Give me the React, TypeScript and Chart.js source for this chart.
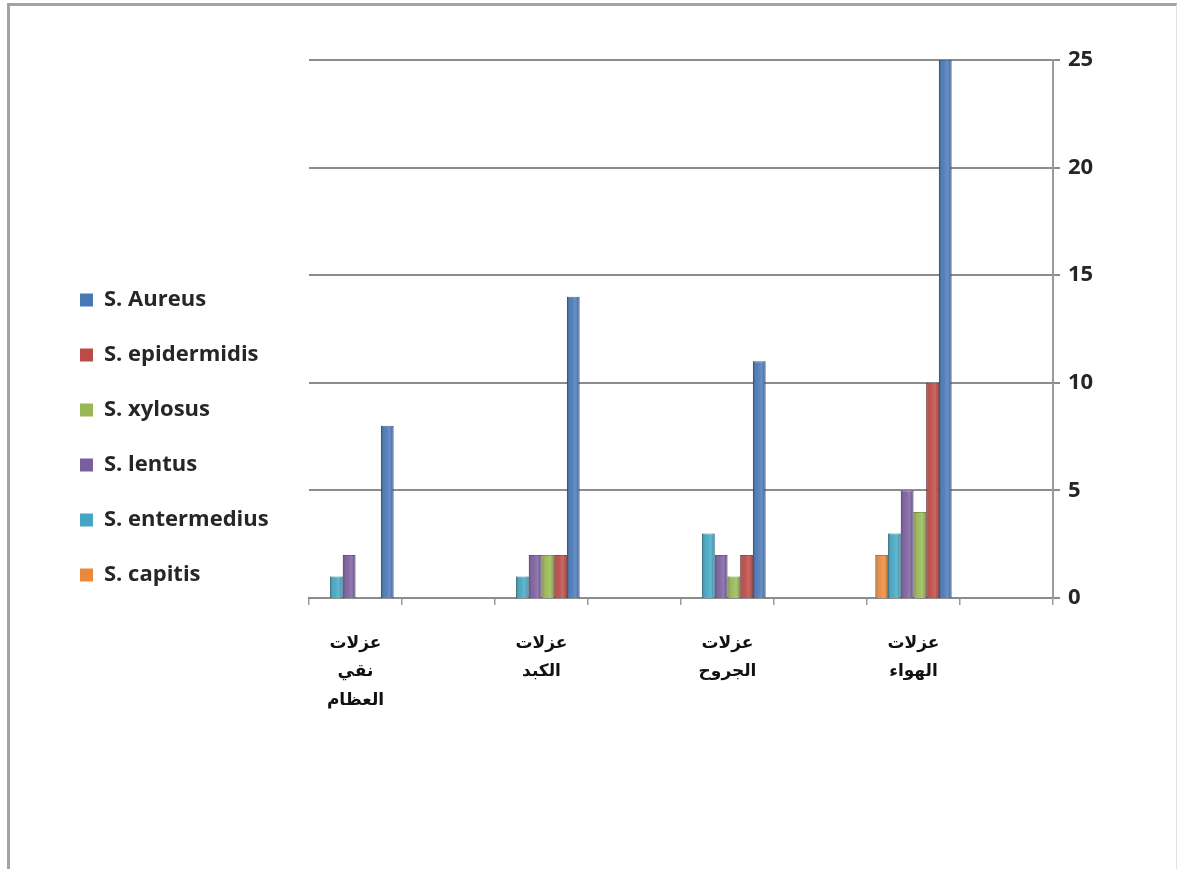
import React, { useEffect, useRef } from "react";
import { Chart, registerables } from "chart.js";

Chart.register(...registerables);

// Isolation sites (each label is drawn on several lines)
const SITES: string[][] = [
  ["عزلات", "نقي", "العظام"],
  ["عزلات", "الكبد"],
  ["عزلات", "الجروح"],
  ["عزلات", "الهواء"],
];

// Species, in the order the bars stand inside each group
const SPECIES = [
  "S. capitis",
  "S. entermedius",
  "S. lentus",
  "S. xylosus",
  "S. epidermidis",
  "S. Aureus",
];

// Counts per site (bone marrow, liver, wounds, air)
const CAPITIS = [0, 0, 0, 2];
const ENTERMEDIUS = [1, 1, 3, 3];
const LENTUS = [2, 2, 2, 5];
const XYLOSUS = [0, 2, 1, 4];
const EPIDERMIDIS = [0, 2, 2, 10];
const AUREUS = [8, 14, 11, 25];

const Y_TICKS = [0, 5, 10, 15, 20, 25];

const FILLS = ["#EA893B", "#44A6C2", "#7B5E9E", "#97B853", "#BC4A46", "#4978B8"];
const EDGES = ["#B96A2C", "#34849B", "#5F4880", "#75923F", "#923936", "#385E93"];

const W = 1177;
const H = 869;
const PAD = { left: 47, top: 60, right: 0, bottom: 54 };
const PLOT_LEFT = 309;
const PLOT_RIGHT = 1053;
const PLOT_BOTTOM = 598;
const LEGEND_FONT = 22;
const LEGEND_FAMILY = "Open Sans";
const LEGEND_PAD = 33;
const LEGEND_BOX = 13;

// Each site is followed by an empty slot on the category axis
const slotLabels = (): (string | string[])[] =>
  SITES.flatMap((s) => [s, ""]);
const slotData = (values: number[]): (number | null)[] =>
  values.flatMap((v) => [v, null]);

// Cylinder-like shading laid over each column
const shadePlugin = {
  id: "columnShade",
  afterDatasetsDraw(chart: any) {
    const ctx = chart.ctx;
    chart.data.datasets.forEach((_: any, di: number) => {
      const meta = chart.getDatasetMeta(di);
      if (meta.hidden) return;
      meta.data.forEach((el: any, i: number) => {
        const raw = chart.data.datasets[di].data[i];
        if (raw === null || raw === undefined || raw === 0) return;
        const { x, y, base, width } = el.getProps(["x", "y", "base", "width"], true);
        const l = x - width / 2;
        const g = ctx.createLinearGradient(l, 0, l + width, 0);
        g.addColorStop(0, "rgba(0,0,0,0.28)");
        g.addColorStop(0.35, "rgba(255,255,255,0.05)");
        g.addColorStop(0.7, "rgba(255,255,255,0.18)");
        g.addColorStop(1, "rgba(0,0,0,0.12)");
        ctx.save();
        ctx.fillStyle = g;
        ctx.fillRect(l, y, width, base - y);
        ctx.restore();
      });
    });
  },
};

export default function App() {
  const ref = useRef<HTMLCanvasElement | null>(null);

  useEffect(() => {
    if (!ref.current) return;
    const series = [CAPITIS, ENTERMEDIUS, LENTUS, XYLOSUS, EPIDERMIDIS, AUREUS];
    const chart = new Chart(ref.current, {
      type: "bar",
      data: {
        labels: slotLabels(),
        datasets: SPECIES.map((name, i) => ({
          label: name,
          data: slotData(series[i]),
          backgroundColor: FILLS[i],
          borderColor: EDGES[i],
          borderWidth: 1,
          borderSkipped: "bottom",
          categoryPercentage: 0.82,
          barPercentage: 1.0,
        })),
      },
      options: {
        responsive: false,
        animation: false,
        devicePixelRatio: 1,
        layout: { padding: PAD },
        plugins: {
          tooltip: { enabled: false },
          legend: {
            position: "left",
            reverse: true,
            maxWidth: 400,
            labels: {
              boxWidth: LEGEND_BOX,
              boxHeight: LEGEND_BOX,
              padding: LEGEND_PAD,
              color: "#262626",
              font: { family: LEGEND_FAMILY, weight: "bold", size: LEGEND_FONT },
              generateLabels: (c: any) =>
                Chart.defaults.plugins.legend.labels
                  .generateLabels(c)
                  .map((it: any) => ({ ...it, lineWidth: 0, strokeStyle: it.fillStyle })),
            },
          },
        },
        scales: {
          gap: {
            type: "linear",
            axis: "y",
            position: "left",
            display: true,
            grid: { display: false, drawTicks: false },
            border: { display: false },
            ticks: { display: false },
            afterFit: (s: any) => {
              const ctx = s.ctx;
              ctx.save();
              ctx.font = `bold ${LEGEND_FONT}px "${LEGEND_FAMILY}"`;
              const tw = Math.max(...SPECIES.map((n) => ctx.measureText(n).width));
              ctx.restore();
              const legendW = LEGEND_BOX + LEGEND_FONT / 2 + tw + LEGEND_PAD + 10;
              s.width = Math.max(0, PLOT_LEFT - PAD.left - legendW);
            },
          },
          x: {
            offset: true,
            grid: {
              display: true,
              offset: true,
              drawOnChartArea: false,
              drawTicks: true,
              tickLength: 7,
              color: "#9a9a9a",
              lineWidth: 1.5,
            },
            border: { display: true, color: "#8c8c8c", width: 2 },
            ticks: {
              autoSkip: false,
              maxRotation: 0,
              padding: 25,
              color: "#111",
              font: { family: "DejaVu Sans", weight: "bold", size: 17, lineHeight: 1.65 },
            },
            afterFit: (s: any) => {
              s.height = H - PAD.bottom - PLOT_BOTTOM;
            },
          },
          y: {
            position: "right",
            min: 0,
            max: 25,
            afterBuildTicks: (s: any) => {
              s.ticks = Y_TICKS.map((v) => ({ value: v }));
            },
            grid: {
              color: "#8c8c8c",
              lineWidth: 2,
              drawTicks: true,
              tickLength: 7,
            },
            border: { display: true, color: "#9a9a9a", width: 2 },
            ticks: {
              padding: 8,
              color: "#262626",
              font: { family: LEGEND_FAMILY, weight: "bold", size: LEGEND_FONT },
            },
            afterFit: (s: any) => {
              s.width = W - PAD.right - PLOT_RIGHT;
            },
          },
        },
      },
      plugins: [shadePlugin],
    } as any);
    return () => chart.destroy();
  }, []);

  return (
    <div
      style={{
        position: "fixed",
        left: 0,
        top: 0,
        width: W,
        height: H,
        background: "#ffffff",
        overflow: "hidden",
      }}
    >
      <canvas ref={ref} width={W} height={H} style={{ width: W, height: H, display: "block" }} />
      <div
        style={{
          position: "absolute",
          left: 7,
          top: 3,
          width: W - 7 - 4,
          height: H,
          borderLeft: "3px solid #a3a3a3",
          borderTop: "3px solid #a3a3a3",
          borderRight: "1px solid #e2e2e2",
          pointerEvents: "none",
        }}
      />
    </div>
  );
}
